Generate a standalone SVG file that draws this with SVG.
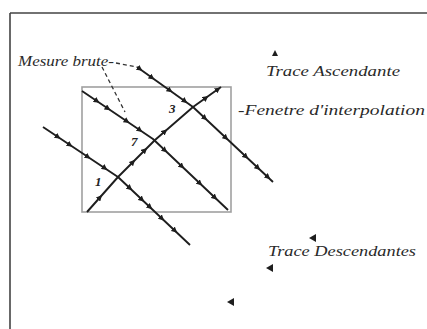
<svg xmlns="http://www.w3.org/2000/svg" width="427" height="329" viewBox="0 0 427 329">
<defs>
<style>
.frame{fill:none;stroke:#444;stroke-width:1.6}
.win{fill:none;stroke:#a0a0a0;stroke-width:1.6}
.trk{fill:none;stroke:#1e1e1e;stroke-width:1.9;stroke-linejoin:round}
.mk{fill:none;stroke:none;marker-mid:url(#tri)}
.lead{fill:none;stroke:#333;stroke-width:1.3;stroke-dasharray:4 3}
.lbl{font-family:"Liberation Serif",serif;font-style:italic;font-size:14.5px;fill:#2a2a2a}
.num{font-family:"Liberation Serif",serif;font-style:italic;font-weight:bold;font-size:13px;fill:#222}
.sym{fill:#1e1e1e}
</style>
<marker id="tri" viewBox="0 0 6 6" refX="3" refY="3" markerWidth="6" markerHeight="6" markerUnits="userSpaceOnUse" orient="auto">
<path d="M0,0 L6,3 L0,6 z" fill="#1e1e1e"/>
</marker>
</defs>
<rect width="427" height="329" fill="#fff"/>
<g id="frame">
<path class="frame" d="M10,13 H427 M10,13 V329"/>
</g>
<g id="window">
<rect class="win" x="82" y="87" width="149" height="125"/>
</g>
<g id="tracks">
<polyline class="trk" points="137,67 193,107 273,182"/>
<polyline class="trk" points="82,91 153,139 228,210"/>
<polyline class="trk" points="43,127 118,177 190,245"/>
<polyline class="trk" points="87,212 118,177 155,140 193,107 221,87"/>
</g>
<g id="markers">
<polyline class="mk" points="135,65.6 140,69.1 152,77.7 170,90.6 185,101.3 205,118.3 226,138 246,156.7 258,168 268,177.3 272,181"/>
<polyline class="mk" points="84,92.4 97,101.1 108,108.6 127,121.4 140,130.2 165,150.4 182,166.5 200,183.5 215,197.7 226,208"/>
<polyline class="mk" points="44,127.7 58,137 70,145 88,157 105,168.3 130,188.3 142,199.7 150,207.2 162,218.6 175,230.8 188,243"/>
<polyline class="mk" points="88,211 100,197.3 133,162 145,150 165,131.3 206,97.7 218,89.2 221,87"/>
</g>
<g id="leaders">
<line class="lead" x1="116" y1="63" x2="137" y2="67"/>
<line class="lead" x1="102" y1="67" x2="125" y2="112"/>
</g>
<g id="labels">
<text class="lbl" x="18" y="66" textLength="96" lengthAdjust="spacingAndGlyphs">Mesure brute-</text>
<text class="lbl" x="266" y="76" textLength="134" lengthAdjust="spacingAndGlyphs">Trace Ascendante</text>
<text class="lbl" x="238" y="115" textLength="187" lengthAdjust="spacingAndGlyphs">-Fenetre d'interpolation</text>
<text class="lbl" x="268" y="256" textLength="148" lengthAdjust="spacingAndGlyphs">Trace Descendantes</text>
</g>
<g id="numbers">
<text class="num" x="95" y="186">1</text>
<text class="num" x="131" y="146">7</text>
<text class="num" x="169" y="113">3</text>
</g>
<g id="legend-symbols">
<path class="sym" d="M272,56 L275,50 L278,56 z"/>
<path class="sym" d="M309,238 L316,234 L316,242 z"/>
<path class="sym" d="M266,268 L273,264 L273,272 z"/>
<path class="sym" d="M227,302 L234,298 L234,306 z"/>
</g>
</svg>
